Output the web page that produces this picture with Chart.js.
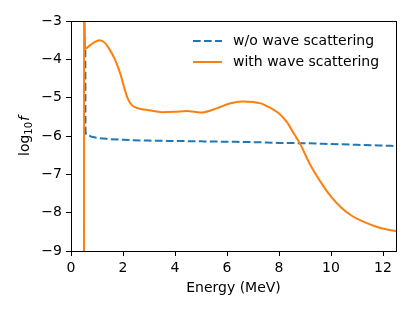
<!DOCTYPE html>
<html>
<head>
<meta charset="utf-8">
<script src="https://cdn.jsdelivr.net/npm/chart.js@4"></script>
<style>
    html, body { margin: 0; padding: 0; background: #ffffff; }
    #wrap { width: 415px; height: 312px; }
</style>
</head>
<body>
<div id="wrap"><canvas id="grafica" width="415" height="312"></canvas></div>
<script>
/* ==================
    DATOS
================== */

const energiaTicks = [0, 2, 4, 6, 8, 10, 12];
const logTicks = [-9, -8, -7, -6, -5, -4, -3];

const etiquetas = ["w/o wave scattering", "with wave scattering"];

// sin dispersion de ondas (azul, discontinua)
const energiaSin = [0.55, 0.56, 0.65, 0.8, 1.0, 1.5, 2.0, 3.0, 4.0, 5.0, 6.0, 7.0, 8.0, 9.0, 10.0, 11.0, 12.0, 12.5];
const logfSin = [-3.75, -5.9, -5.98, -6.02, -6.05, -6.08, -6.1, -6.12, -6.13, -6.14, -6.15, -6.16, -6.18, -6.19, -6.21, -6.23, -6.25, -6.26];

// con dispersion de ondas (naranja)
const energiaCon = [0.5, 0.505, 0.55, 0.7, 0.9, 1.1, 1.3, 1.5, 1.7, 1.9, 2.05, 2.2, 2.35, 2.5, 2.8, 3.0, 3.5, 4.0, 4.45, 5.0, 5.6, 6.1, 6.6, 7.0, 7.3, 7.8, 8.0, 8.3, 8.6, 8.8, 9.2, 9.7, 10.0, 10.4, 10.8, 11.2, 11.9, 12.5];
const logfCon = [-10, -2.5, -3.72, -3.65, -3.55, -3.5, -3.57, -3.76, -4.02, -4.38, -4.75, -5.05, -5.2, -5.26, -5.31, -5.33, -5.38, -5.37, -5.35, -5.39, -5.28, -5.15, -5.1, -5.11, -5.15, -5.32, -5.41, -5.63, -5.97, -6.19, -6.75, -7.3, -7.58, -7.87, -8.08, -8.22, -8.4, -8.48];

/* ==================
    ESTILO
================== */

const AZUL = "#1f77b4";
const NARANJA = "#ff7f0e";
const FUENTE = "'DejaVu Sans', sans-serif";
const TAM = 14;

function aPuntos(xs, ys) {
    return xs.map((x, i) => ({ x: x, y: ys[i] }));
}

function formatoMenos(valor) {
    return valor < 0 ? "\u2212" + Math.abs(valor) : String(valor);
}

const pluginMarco = {
    id: "marco",
    afterDraw(chart) {
        const ctx = chart.ctx;
        const area = chart.chartArea;
        ctx.save();

        // marco completo de los ejes
        ctx.strokeStyle = "#000000";
        ctx.lineWidth = 1;
        ctx.strokeRect(Math.round(area.left) + 0.5, Math.round(area.top) + 0.5,
            Math.round(area.right - area.left), Math.round(area.bottom - area.top));

        // leyenda
        ctx.font = TAM + "px " + FUENTE;
        ctx.textBaseline = "middle";
        ctx.fillStyle = "#000000";
        const filas = [41, 62];
        chart.data.datasets.forEach((ds, i) => {
            const y = filas[i];
            ctx.beginPath();
            ctx.strokeStyle = ds.borderColor;
            ctx.lineWidth = ds.borderWidth;
            ctx.setLineDash(ds.borderDash || []);
            ctx.moveTo(193, y);
            ctx.lineTo(222, y);
            ctx.stroke();
            ctx.setLineDash([]);
            ctx.fillText(ds.label, 233, y);
        });

        // titulo eje x
        ctx.textAlign = "center";
        ctx.fillText("Energy (MeV)", (area.left + area.right) / 2, 288);

        // titulo eje y: log_10 f
        ctx.translate(25, (area.top + area.bottom) / 2);
        ctx.rotate(-Math.PI / 2);
        ctx.textAlign = "left";
        const fLog = TAM + "px " + FUENTE;
        const fSub = Math.round(TAM * 0.7) + "px " + FUENTE;
        const fIt = "italic " + TAM + "px " + FUENTE;
        ctx.font = fLog;
        const wLog = ctx.measureText("log").width;
        ctx.font = fSub;
        const wSub = ctx.measureText("10").width;
        ctx.font = fIt;
        const wF = ctx.measureText("f").width;
        let x0 = -(wLog + wSub + wF + 1) / 2;
        ctx.font = fLog;
        ctx.fillText("log", x0, 0);
        ctx.font = fSub;
        ctx.fillText("10", x0 + wLog, 4);
        ctx.font = fIt;
        ctx.fillText("f", x0 + wLog + wSub + 1, 0);

        ctx.restore();
    },
};

function crearGrafica() {
    const canvas = document.getElementById("grafica");
    if (!canvas || typeof Chart === "undefined") {
        return;
    }

    new Chart(canvas.getContext("2d"), {
        type: "scatter",
        data: {
            datasets: [
                {
                    label: etiquetas[0],
                    data: aPuntos(energiaSin, logfSin),
                    showLine: true,
                    borderColor: AZUL,
                    backgroundColor: AZUL,
                    borderWidth: 2,
                    borderDash: [7.7, 3.3],
                    pointRadius: 0,
                    cubicInterpolationMode: "monotone",
                    order: 1,
                },
                {
                    label: etiquetas[1],
                    data: aPuntos(energiaCon, logfCon),
                    showLine: true,
                    borderColor: NARANJA,
                    backgroundColor: NARANJA,
                    borderWidth: 2,
                    pointRadius: 0,
                    cubicInterpolationMode: "monotone",
                    order: 0,
                },
            ],
        },
        options: {
            responsive: false,
            animation: false,
            layout: {
                padding: { left: 0, top: 21, right: 19, bottom: 0 },
            },
            plugins: {
                legend: { display: false },
                tooltip: { enabled: false },
            },
            scales: {
                x: {
                    type: "linear",
                    min: 0,
                    max: 12.5,
                    afterBuildTicks: (eje) => {
                        eje.ticks = energiaTicks.map((v) => ({ value: v }));
                    },
                    afterFit: (eje) => {
                        eje.height = 61;
                    },
                    grid: {
                        drawOnChartArea: false,
                        drawTicks: true,
                        tickLength: 5,
                        color: "#000000",
                    },
                    border: { display: true, color: "#000000", width: 1 },
                    ticks: {
                        color: "#000000",
                        padding: 4,
                        maxRotation: 0,
                        font: { family: FUENTE, size: TAM },
                        callback: (v) => formatoMenos(v),
                    },
                },
                y: {
                    type: "linear",
                    min: -9,
                    max: -3,
                    afterBuildTicks: (eje) => {
                        eje.ticks = logTicks.map((v) => ({ value: v }));
                    },
                    afterFit: (eje) => {
                        eje.width = 71;
                    },
                    grid: {
                        drawOnChartArea: false,
                        drawTicks: true,
                        tickLength: 5,
                        color: "#000000",
                    },
                    border: { display: true, color: "#000000", width: 1 },
                    ticks: {
                        color: "#000000",
                        padding: 4,
                        font: { family: FUENTE, size: TAM },
                        callback: (v) => formatoMenos(v),
                    },
                },
            },
        },
        plugins: [pluginMarco],
    });
}

crearGrafica();
</script>
</body>
</html>
